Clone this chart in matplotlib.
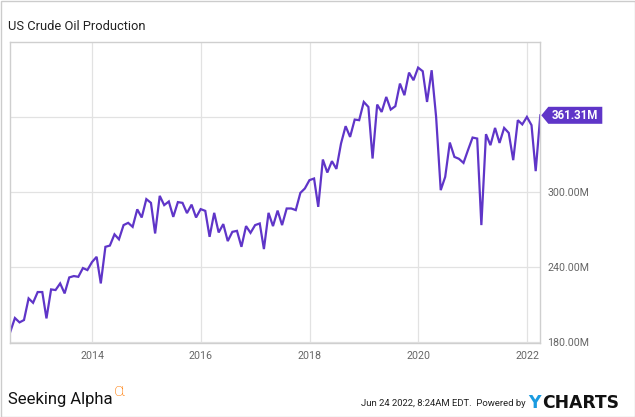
import numpy as np
import pandas as pd
import matplotlib
matplotlib.use('Agg')
import matplotlib.pyplot as plt
from matplotlib.patches import Polygon, Rectangle
from matplotlib.transforms import IdentityTransform
import matplotlib.dates as mdates

plt.rcParams['font.family'] = ['Roboto', 'DejaVu Sans']

# monthly US crude oil production, millions of barrels (Jun 2012 .. Mar 2022)
prod_2012 = [188, 199, 195.5, 197.4, 214.7, 211.2, 219.8]
prod_2013 = [219.8, 198.7, 221.9, 221.4, 226.7, 218.7, 231.5, 232.6, 232, 239, 237.4, 243.8]
prod_2014 = [248, 226.7, 256, 257, 266, 262, 273.4, 275.2, 272, 286, 279.5, 294.2]
prod_2015 = [291.2, 266.7, 296.8, 289.4, 292.3, 280, 291.8, 291.2, 283, 289.8, 279.5, 286.2]
prod_2016 = [284.8, 264, 283.2, 267.5, 274.2, 260.6, 268, 268.8, 256, 272.6, 267.2, 273.4]
prod_2017 = [274.7, 254.2, 283.2, 272.6, 285, 273.4, 286.7, 286.7, 285.4, 299.2, 302.7, 309.4]
prod_2018 = [310.7, 288, 325.9, 315.5, 324.6, 318.4, 338.7, 352.6, 344, 357.9, 357.4, 372]
prod_2019 = [368, 326.7, 369.9, 364, 376, 365.9, 368.6, 386.7, 377.4, 395.5, 389.4, 399.5]
prod_2020 = [396.6, 372, 397.4, 360, 301.4, 312, 339.5, 328, 326.5, 323.2, 333.4, 343.5]
prod_2021 = [342.7, 273.4, 346.2, 337.4, 351.2, 339.2, 351.2, 347.2, 325.4, 357.4, 354, 360]
prod_2022 = [353.4, 316.6, 361.31]

values = (prod_2012 + prod_2013 + prod_2014 + prod_2015 + prod_2016 + prod_2017
          + prod_2018 + prod_2019 + prod_2020 + prod_2021 + prod_2022)
dates = pd.date_range('2012-06-30', periods=len(values), freq='ME')

y_ticks = [180, 240, 300, 360]
# the 360M label sits under the last-value tag in the original, so it is left blank
y_labels = ['180.00M', '240.00M', '300.00M', '']
x_tick_years = [2014, 2016, 2018, 2020, 2022]

purple = '#5f35c8'
grey_txt = '#666666'

fig = plt.figure(figsize=(6.35, 4.17), dpi=100)
ax = fig.add_axes([10.3 / 635, 1 - 343 / 417, 530 / 635, 301 / 417])

ax.plot(dates, values, color=purple, linewidth=1.6, solid_joinstyle='miter')
ax.set_xlim(dates[0], dates[-1])
ax.set_ylim(179, 420)

ax.set_yticks(y_ticks)
ax.set_yticklabels(y_labels)
ax.yaxis.tick_right()
ax.set_xticks([pd.Timestamp(f'{y}-01-01') for y in x_tick_years])
ax.xaxis.set_major_formatter(mdates.DateFormatter('%Y'))
ax.tick_params(axis='y', length=0, pad=5, labelsize=7.7, labelcolor=grey_txt)
ax.tick_params(axis='x', length=0, pad=6, labelsize=7.7, labelcolor=grey_txt)
ax.grid(True, color='#e2e2e2', linewidth=0.9)
ax.set_axisbelow(True)
for s in ax.spines.values():
    s.set_color('#cfcfcf')
    s.set_linewidth(1)

# last value tag
fig.canvas.draw()
tx, ty = ax.transData.transform((mdates.date2num(dates[-1]), values[-1]))
h = 8.5
tag = Polygon([(tx + 1, ty), (tx + 8, ty + h), (tx + 62, ty + h), (tx + 62, ty - h), (tx + 8, ty - h)],
              closed=True, facecolor=purple, edgecolor='none', transform=IdentityTransform(), zorder=5)
fig.add_artist(tag)
fig.text(tx + 34.5, ty, f'{values[-1]:.2f}M', transform=IdentityTransform(), color='white',
         fontsize=8.3, fontweight='bold', ha='center', va='center', zorder=6)

# title
fig.text(8 / 635, 1 - 26 / 417, 'US Crude Oil Production', fontsize=9.3, color='#222222',
         ha='left', va='center')

# footer
fig.text(8 / 635, 1 - 404 / 417, 'Seeking Alpha', fontsize=12, color='#111111',
         ha='left', va='baseline')
fig.text(114 / 635, 1 - 391 / 417, 'α', fontsize=14, color='#ff7a00', ha='left', va='center',
         fontweight='light')
fig.text(526 / 635, 1 - 404 / 417, 'Jun 24 2022, 8:24AM EDT.  Powered by', fontsize=6.8,
         color='#222222', ha='right', va='center',
         family=['Liberation Sans Narrow', 'Roboto'])
fig.text(528 / 635, 1 - 403 / 417, 'Y', fontsize=12.5, fontweight='bold', color='#1a9be0',
         ha='left', va='center', family=['DejaVu Sans'])
fig.text(542 / 635, 1 - 403 / 417, 'CHARTS', fontsize=12.3, fontweight='bold', color='#111111',
         ha='left', va='center', family=['DejaVu Sans'])

fig.add_artist(Rectangle((0.5, 0.5), 634, 416, transform=IdentityTransform(), fill=False,
                         edgecolor='#cccccc', linewidth=1))

fig.savefig('out.png', dpi=100)
